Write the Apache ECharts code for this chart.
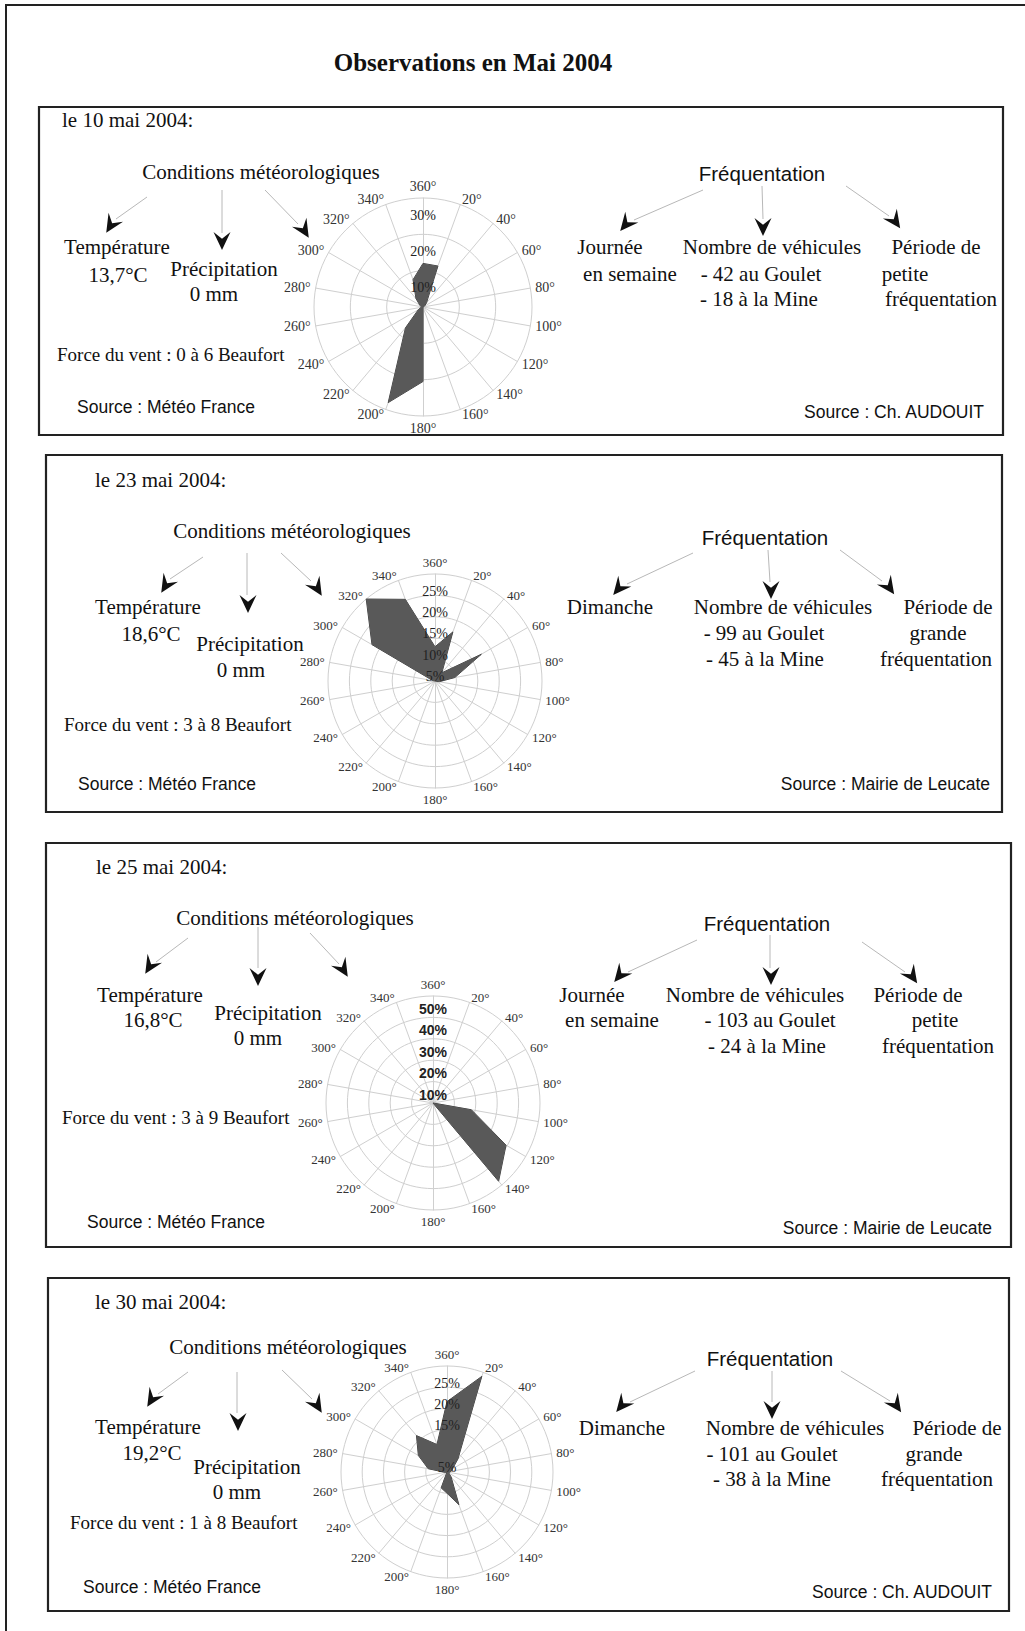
<!DOCTYPE html>
<html><head><meta charset="utf-8">
<script src="https://cdn.jsdelivr.net/npm/echarts@6/dist/echarts.min.js"></script>
<style>html,body{margin:0;padding:0;background:#fff}#c{width:1025px;height:1631px}</style>
</head><body><div id="c"></div>
<script>
// ---------------- DATA ----------------
const title = 'Observations en Mai 2004';
const dates = ['le 10 mai 2004:', 'le 23 mai 2004:', 'le 25 mai 2004:', 'le 30 mai 2004:'];
const weatherHeader = 'Conditions météorologiques';
const countHeader = 'Fréquentation';
const temperatures = ['13,7°C', '18,6°C', '16,8°C', '19,2°C'];
const precipitations = ['0 mm', '0 mm', '0 mm', '0 mm'];
const windForces = ['0 à 6', '3 à 8', '3 à 9', '1 à 8'];
const dayTypes = [['Journée', 'en semaine'], ['Dimanche'], ['Journée', 'en semaine'], ['Dimanche']];
const vehiclesGoulet = [42, 99, 103, 101];
const vehiclesMine = [18, 45, 24, 38];
const periods = [
  ['Période de', 'petite', 'fréquentation'],
  ['Période de', 'grande', 'fréquentation'],
  ['Période de', 'petite', 'fréquentation'],
  ['Période de', 'grande', 'fréquentation']
];
const weatherSources = ['Source : Météo France', 'Source : Météo France', 'Source : Météo France', 'Source : Météo France'];
const countSources = ['Source : Ch. AUDOUIT', 'Source : Mairie de Leucate', 'Source : Mairie de Leucate', 'Source : Ch. AUDOUIT'];

// wind directions (compass order, clockwise from north)
const directions = ['360°','20°','40°','60°','80°','100°','120°','140°','160°','180°','200°','220°','240°','260°','280°','300°','320°','340°'];
// wind frequency (%) per direction, compass order
const wind10 = [12, 12, 1.5, 0.5, 0, 0, 0, 0, 0, 20.5, 28, 7.5, 1.5, 0.5, 0.5, 1, 3, 8];
const wind23 = [8, 12.2, 2.5, 12.5, 4.7, 1, 0, 0, 0, 0, 0, 0, 0, 0, 0.5, 17, 25, 20.3];
const wind25 = [0, 0, 0, 0, 0, 18.2, 39.4, 47.7, 0, 0, 0, 0, 0, 0, 0, 0, 0, 0];
const wind30 = [16.6, 24, 4, 1.5, 1, 0.5, 0.5, 1.5, 8.2, 5, 4, 0, 0, 0.5, 4.5, 7.8, 11.2, 6.9];
const windMax = [30, 25, 50, 25];
const windSplits = [3, 5, 5, 5];
const pctLabels10 = ['10%', '20%', '30%'];
const pctLabels23 = ['5%', '10%', '15%', '20%', '25%'];
const pctLabels25 = ['10%', '20%', '30%', '40%', '50%'];
const pctLabels30 = ['5%', '', '15%', '20%', '25%'];

// ---------------- LAYOUT ----------------
const SERIF = '"Liberation Serif", "DejaVu Serif", serif';
const SANS = '"Liberation Sans", "DejaVu Sans", sans-serif';
const winds = [wind10, wind23, wind25, wind30];
const pctLabels = [pctLabels10, pctLabels23, pctLabels25, pctLabels30];

const roses = [
  {c: [423, 307], r: 109, ds: 14, pf: SERIF, ps: 14, pw: 'normal', pad: 10},
  {c: [435, 681], r: 107, ds: 13, pf: SERIF, ps: 14, pw: 'normal', pad: 10},
  {c: [433, 1103], r: 107, ds: 13, pf: SANS, ps: 14, pw: 'bold', pad: 6},
  {c: [447, 1472], r: 106, ds: 13, pf: SERIF, ps: 14, pw: 'normal', pad: 10}
];

const boxes = [
  {rect: [39, 107, 1003, 435], date: [62, 120], cond: [261, 172], freq: [762, 173],
   temp: [117, 247], tval: [118, 275], prec: [224, 269], pval: [214, 294], force: [57, 354], srcW: [77, 407],
   day: [[610, 247], [630, 274]], nombre: [772, 247], goulet: [761, 274], mine: [759, 299],
   period: [[936, 247], [905, 274], [941, 299]], srcC: [984, 412],
   arrows: [[147,197,116,219,111,225,122],[222,190,222,233,222,241,90],[265,190,298,224,304,230,58],
            [703,190,634,220,626,224,130],[762,186,763,219,763,227,90],[846,186,889,216,895,221,55]]},
  {rect: [46, 455, 1002, 812], date: [95, 480], cond: [292, 531], freq: [765, 537],
   temp: [148, 607], tval: [151, 634], prec: [250, 644], pval: [241, 670], force: [64, 724], srcW: [78, 784],
   day: [[610, 607]], nombre: [783, 607], goulet: [764, 633], mine: [765, 659],
   period: [[948, 607], [938, 633], [936, 659]], srcC: [990, 784],
   arrows: [[203,557,170,579,166,585,122],[247,553,247,595,248,604,90],[281,553,311,581,317,588,58],
            [693,553,627,584,619,588,130],[768,550,770,582,771,590,90],[840,550,882,581,889,587,55]]},
  {rect: [46, 843, 1011, 1247], date: [96, 867], cond: [295, 918], freq: [767, 923],
   temp: [150, 995], tval: [153, 1020], prec: [268, 1013], pval: [258, 1038], force: [62, 1117], srcW: [87, 1222],
   day: [[592, 995], [612, 1020]], nombre: [755, 995], goulet: [770, 1020], mine: [767, 1046],
   period: [[918, 995], [935, 1020], [938, 1046]], srcC: [992, 1228],
   arrows: [[188,938,156,962,150,966,122],[258,927,258,968,258,977,90],[310,933,339,964,343,969,58],
            [697,940,628,972,620,975,130],[770,935,770,968,771,976,90],[862,942,905,972,912,976,55]]},
  {rect: [48, 1278, 1009, 1611], date: [95, 1302], cond: [288, 1347], freq: [770, 1358],
   temp: [148, 1427], tval: [152, 1453], prec: [247, 1467], pval: [237, 1492], force: [70, 1522], srcW: [83, 1587],
   day: [[622, 1428]], nombre: [795, 1428], goulet: [772, 1454], mine: [772, 1479],
   period: [[957, 1428], [934, 1454], [937, 1479]], srcC: [992, 1592],
   arrows: [[188,1372,158,1394,152,1399,122],[237,1372,237,1413,238,1422,90],[282,1370,312,1399,317,1405,58],
            [695,1371,630,1402,622,1405,130],[772,1371,772,1402,772,1410,90],[841,1371,890,1401,896,1405,55]]}
];

const G = [];
function txt(str, x, y, font, align) {
  G.push({type: 'text', silent: true, z: 20,
    style: {text: str, x: x, y: y, fill: '#111', font: font, align: align || 'center', verticalAlign: 'middle'}});
}
function seg(x1, y1, x2, y2) {
  G.push({type: 'line', silent: true, z: 15, shape: {x1, y1, x2, y2}, style: {stroke: '#b8b8b8', lineWidth: 1}});
}
function arrowHead(cx, cy, angDeg) {
  const L = 18, W = 8.5;
  const pts = [[L / 2, 0], [-L / 2, -W], [-L / 2 + L * 0.38, 0], [-L / 2, W]];
  const a = angDeg * Math.PI / 180, ca = Math.cos(a), sa = Math.sin(a);
  const p = pts.map(([x, y]) => [cx + x * ca - y * sa, cy + x * sa + y * ca]);
  G.push({type: 'polygon', silent: true, z: 16, shape: {points: p}, style: {fill: '#111'}});
}

// outer frame
G.push({type: 'polyline', silent: true, z: 10, shape: {points: [[6, 1631], [6, 5], [1025, 5]]}, style: {stroke: '#222', lineWidth: 2, fill: null}});
txt(title, 473, 62, 'bold 25px ' + SERIF);

boxes.forEach((b, i) => {
  const [x1, y1, x2, y2] = b.rect;
  G.push({type: 'rect', silent: true, z: 10, shape: {x: x1, y: y1, width: x2 - x1, height: y2 - y1},
    style: {fill: null, stroke: '#222', lineWidth: 2.2}});
  const F = '21px ' + SERIF;
  txt(dates[i], b.date[0], b.date[1], F, 'left');
  txt(weatherHeader, b.cond[0], b.cond[1], F);
  txt(countHeader, b.freq[0], b.freq[1], '20.5px ' + SANS);
  txt('Température', b.temp[0], b.temp[1], F);
  txt(temperatures[i], b.tval[0], b.tval[1], F);
  txt('Précipitation', b.prec[0], b.prec[1], F);
  txt(precipitations[i], b.pval[0], b.pval[1], F);
  txt('Force du vent : ' + windForces[i] + ' Beaufort', b.force[0], b.force[1], '19px ' + SERIF, 'left');
  txt(weatherSources[i], b.srcW[0], b.srcW[1], '17.5px ' + SANS, 'left');
  dayTypes[i].forEach((s, k) => txt(s, b.day[k][0], b.day[k][1], F));
  txt('Nombre de véhicules', b.nombre[0], b.nombre[1], F);
  txt('- ' + vehiclesGoulet[i] + ' au Goulet', b.goulet[0], b.goulet[1], F);
  txt('- ' + vehiclesMine[i] + ' à la Mine', b.mine[0], b.mine[1], F);
  periods[i].forEach((s, k) => txt(s, b.period[k][0], b.period[k][1], F));
  txt(countSources[i], b.srcC[0], b.srcC[1], '17.5px ' + SANS, 'right');
  b.arrows.forEach(a => { seg(a[0], a[1], a[2], a[3]); arrowHead(a[4], a[5], a[6]); });
});

// ---------------- RADARS ----------------
const ccw = arr => [arr[0]].concat(arr.slice(1).reverse()); // compass (clockwise) -> echarts (counter-clockwise)
const radars = [], series = [];
roses.forEach((ro, k) => {
  const max = windMax[k], n = windSplits[k], step = max / n, labels = pctLabels[k];
  radars.push({
    center: ro.c, radius: ro.r, startAngle: 90, shape: 'circle', splitNumber: n, z: 1,
    indicator: ccw(directions).map(d => ({name: d, min: 0, max: max})),
    axisName: {color: '#333', fontFamily: SERIF, fontSize: ro.ds},
    nameGap: 5,
    splitLine: {lineStyle: {color: '#cfcfcf', width: 1}},
    splitArea: {show: false},
    axisLine: {lineStyle: {color: '#cfcfcf', width: 1}},
    axisTick: {show: false},
    axisLabel: {show: false}
  });
  radars.push({
    center: ro.c, radius: ro.r, startAngle: 90, shape: 'circle', splitNumber: n, z: 6,
    indicator: [{name: '', min: 0, max: max}],
    axisName: {show: false},
    splitLine: {show: false}, splitArea: {show: false},
    axisLine: {show: false}, axisTick: {show: false},
    axisLabel: {
      show: true, margin: 0, align: 'center', verticalAlign: 'top', padding: [ro.pad, 0, 0, 0],
      fontFamily: ro.pf, fontSize: ro.ps, fontWeight: ro.pw, color: '#222',
      formatter: v => { const j = Math.round(v / step); return j > 0 ? (labels[j - 1] || '') : ''; }
    }
  });
  series.push({
    type: 'radar', radarIndex: 2 * k, silent: true, z: 2, symbol: 'none',
    lineStyle: {color: '#3e3e3e', width: 1},
    areaStyle: {color: '#595959', opacity: 1},
    itemStyle: {color: '#595959'},
    data: [{value: ccw(winds[k]), name: dates[k]}]
  });
});

const chart = echarts.init(document.getElementById('c'), null, {renderer: 'svg'});
chart.setOption({
  animation: false,
  backgroundColor: '#fff',
  radar: radars,
  series: series,
  graphic: {elements: G}
});
</script>
</body></html>
